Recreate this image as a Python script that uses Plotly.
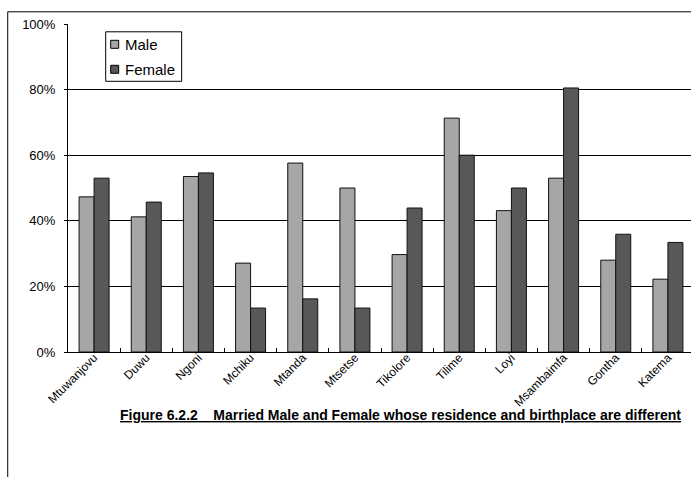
import plotly.graph_objects as go

# Village names and share (%) of married people whose residence differs from birthplace
villages = ["Mtuwanjovu", "Duwu", "Ngoni", "Mchiku", "Mtanda", "Mtsetse",
            "Tikolore", "Tilime", "Loyi", "Msambaimfa", "Gontha", "Katema"]
male = [47.3, 41.2, 53.5, 27.1, 57.6, 50.0, 29.7, 71.3, 43.1, 53.0, 28.0, 22.2]
female = [53.0, 45.7, 54.6, 13.4, 16.2, 13.4, 43.9, 60.0, 50.0, 80.5, 35.9, 33.4]
y_ticks = [0, 20, 40, 60, 80, 100]
y_tick_text = ["0%", "20%", "40%", "60%", "80%", "100%"]
series_names = ["Male", "Female"]
series_colors = ["#A6A6A6", "#585858"]

caption = ("<b><u>Figure 6.2.2\u00a0\u00a0\u00a0\u00a0Married Male and Female whose "
           "residence and birthplace are different</u></b>")

W, H = 691, 477
# plot area in pixels
L, T, B = 67.8, 23.7, 351.7
R = W
pw, ph = R - L, B - T


def px_x(p):
    return (p - L) / pw


def px_y(p):
    return (B - p) / ph


font = "Arial, Liberation Sans, sans-serif"
edge = dict(color="#111111", width=1)

fig = go.Figure()
for name, vals, col in zip(series_names, [male, female], series_colors):
    fig.add_trace(go.Bar(name=name, x=villages, y=vals,
                         marker=dict(color=col, line=edge)))

shapes = [
    # outer chart frame (left and top edges)
    dict(type="line", xref="paper", yref="paper", x0=px_x(7.5), x1=px_x(7.5),
         y0=px_y(11.5), y1=px_y(H + 5), line=dict(color="#000000", width=1)),
    dict(type="line", xref="paper", yref="paper", x0=px_x(7.5), x1=px_x(W + 5),
         y0=px_y(11.5), y1=px_y(11.5), line=dict(color="#000000", width=1)),
    # key box
    dict(type="rect", xref="paper", yref="paper", x0=px_x(105.5), x1=px_x(181.5),
         y0=px_y(31.5), y1=px_y(81), fillcolor="white",
         line=dict(color="#000000", width=1), layer="above"),
]
annotations = [dict(text=caption, xref="paper", yref="paper",
                    x=px_x(118), y=px_y(415), xanchor="left", yanchor="middle",
                    showarrow=False, font=dict(size=14, family=font))]

# key entries: swatch + label
for i, (name, col) in enumerate(zip(series_names, series_colors)):
    cy = 44 + 25 * i
    shapes.append(dict(type="rect", xref="paper", yref="paper",
                       x0=px_x(110.5), x1=px_x(118.5), y0=px_y(cy - 4), y1=px_y(cy + 4),
                       fillcolor=col, line=dict(color="#000000", width=1), layer="above"))
    annotations.append(dict(text=name, xref="paper", yref="paper",
                            x=px_x(123), y=px_y(cy), xanchor="left", yanchor="middle",
                            showarrow=False, font=dict(size=15, family=font)))

fig.update_layout(
    width=W, height=H,
    margin=dict(l=L, r=0, t=T, b=H - B, pad=0),
    paper_bgcolor="white", plot_bgcolor="white",
    barmode="group", bargap=0.425, bargroupgap=0,
    font=dict(family=font, color="#000000"),
    showlegend=False,
    xaxis=dict(range=[-0.5, 11.5 - (694 - R) / 52.2], showline=True,
               linecolor="#000000", linewidth=1, ticks="inside", ticklen=4,
               tickson="boundaries", tickcolor="#000000", tickangle=-45,
               tickfont=dict(size=12, family=font), showgrid=False,
               ticklabelstandoff=-7, fixedrange=True),
    yaxis=dict(range=[0, 100], tickmode="array", tickvals=y_ticks,
               ticktext=y_tick_text,
               showline=True, linecolor="#000000", linewidth=1,
               ticks="outside", ticklen=3, tickcolor="#000000",
               tickfont=dict(size=13, family=font), showgrid=True,
               gridcolor="#000000", gridwidth=1, zeroline=False,
               ticklabelstandoff=6, fixedrange=True),
    annotations=annotations,
    shapes=shapes,
)

fig.write_html("out.html")
